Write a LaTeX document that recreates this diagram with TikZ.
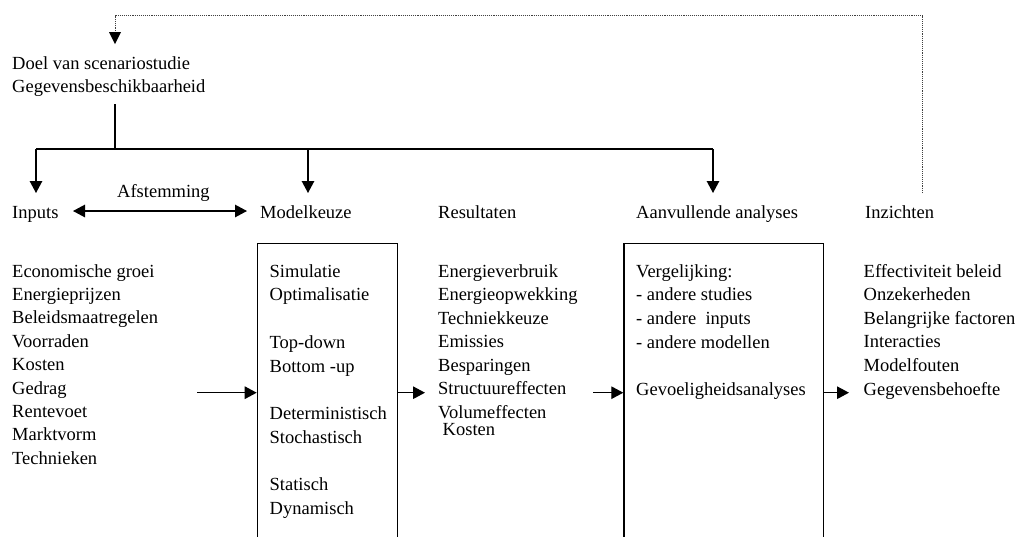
\documentclass[tikz,border=0pt]{standalone}
\usepackage{fontspec}
\setmainfont{Liberation Serif}
\usetikzlibrary{arrows.meta}
\begin{document}
\begin{tikzpicture}[x=1pt,y=-1pt,
  lbl/.style={anchor=base west, inner sep=0pt, font=\fontsize{18.5}{23}\selectfont},
  conn/.style={line width=1.3pt, -{Triangle[length=12pt,width=12.5pt]}},
  plain/.style={line width=1.3pt},
  dbl/.style={line width=1.3pt, {Triangle[length=12pt,width=12.5pt]}-{Triangle[length=12pt,width=12.5pt]}},
  feedback/.style={line width=0.9pt, densely dotted, draw=black!75},
  boxstyle/.style={draw, line width=1.3pt, inner sep=0pt, minimum width=140pt, minimum height=300pt, anchor=north west}]
\useasboundingbox (0,0) rectangle (1018,536);
\clip (0,0) rectangle (1018,536);

% title
\node[lbl] (doel) at (12,69) {Doel van scenariostudie};
\node[lbl] (gegev) at (12,92) {Gegevensbeschikbaarheid};

% headers
\node[lbl] (hInputs) at (12,218) {Inputs};
\node[lbl] (hModel) at (260,218) {Modelkeuze};
\node[lbl] (hRes) at (438,218) {Resultaten};
\node[lbl] (hAanv) at (636,218) {Aanvullende analyses};
\node[lbl] (hInz) at (865,218) {Inzichten};
\node[lbl] (afst) at (117,197) {Afstemming};

% boxes
\node[boxstyle] (box1) at (256.7,242.7) {};
\node[boxstyle, minimum width=199.4pt] (box2) at (623.3,242.7) {};

% inputs column
\foreach \t [count=\i from 0] in {Economische groei,Energieprijzen,Beleidsmaatregelen,Voorraden,Kosten,Gedrag,Rentevoet,Marktvorm,Technieken}
  \node[lbl] (in\i) at (12,277+23.4*\i) {\t};

% model box contents
\node[lbl] (m1) at (269.5,277) {Simulatie};
\node[lbl] (m2) at (269.5,300.7) {Optimalisatie};
\node[lbl] (m3) at (269.5,348) {Top-down};
\node[lbl] (m4) at (269.5,372) {Bottom -up};
\node[lbl] (m5) at (269.5,419) {Deterministisch};
\node[lbl] (m6) at (269.5,443) {Stochastisch};
\node[lbl] (m7) at (269.5,490) {Statisch};
\node[lbl] (m8) at (269.5,514) {Dynamisch};

% results column
\foreach \t [count=\i from 0] in {Energieverbruik,Energieopwekking,Techniekkeuze,Emissies,Besparingen,Structuureffecten,Volumeffecten}
  \node[lbl] (r\i) at (438,277+23.5*\i) {\t};
\node[lbl] (r7) at (442.5,435) {Kosten};

% analyses box contents
\node[lbl] (a1) at (636,277) {Vergelijking:};
\node[lbl] (a2) at (636,300.7) {- andere studies};
\node[lbl] (a3) at (636,324.4) {- andere\ \ inputs};
\node[lbl] (a4) at (636,348) {- andere modellen};
\node[lbl] (a5) at (636,395) {Gevoeligheidsanalyses};

% insights column
\foreach \t [count=\i from 0] in {Effectiviteit beleid,Onzekerheden,Belangrijke factoren,Interacties,Modelfouten,Gegevensbehoefte}
  \node[lbl] (z\i) at (863.5,277+23.6*\i) {\t};

% tree from title
\coordinate (tStem) at (115,104);
\coordinate (tBus) at (115,149);
\coordinate (bL) at (36,149);
\coordinate (bM) at (308,149);
\coordinate (bR) at (713,149);
\coordinate (tipL) at (36,193);
\coordinate (tipM) at (308,193);
\coordinate (tipR) at (713,193);
\draw[plain] (tStem) -- (tBus);
\draw[plain] (bL) -- (bR);
\draw[conn] (bL) -- (tipL);
\draw[conn] (bM) -- (tipM);
\draw[conn] (bR) -- (tipR);

% afstemming double arrow
\coordinate (dA) at (73,211);
\coordinate (dB) at (247,211);
\draw[dbl] (dA) -- (dB);

% flow arrows
\coordinate (inStart) at (197,392.7);
\coordinate (r1Tip) at (425,392.7);
\coordinate (a1Start) at (593,392.7);
\coordinate (z1Tip) at (849,392.7);
\draw[conn] (inStart) -- (box1.west |- inStart);
\draw[conn] (box1.east |- r1Tip) -- (r1Tip);
\draw[conn] (a1Start) -- (box2.west |- a1Start);
\draw[conn] (box2.east |- z1Tip) -- (z1Tip);

% feedback dotted loop
\coordinate (fb0) at (922,193);
\coordinate (fb1) at (922,15.5);
\coordinate (fb2) at (115,15.5);
\coordinate (fbTip) at (115,44);
\draw[feedback] (fb0) -- (fb1) -- (fb2) -- (fb2 |- 0,32);
\fill (fbTip) -- ++(-6,-12) -- ++(12,0) -- cycle;
\end{tikzpicture}
\end{document}
